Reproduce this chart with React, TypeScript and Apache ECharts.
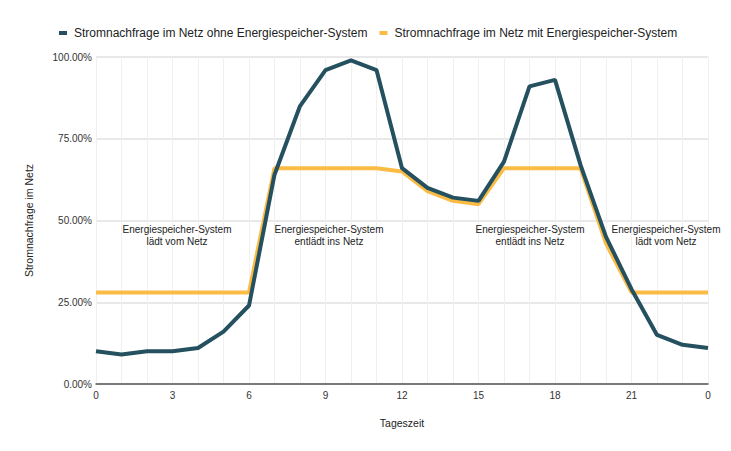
import React, { useEffect, useRef } from "react";
import * as echarts from "echarts";

const hours = ["0","1","2","3","4","5","6","7","8","9","10","11","12","13","14","15","16","17","18","19","20","21","22","23","24"];
const withoutStorage = [10, 9, 10, 10, 11, 16, 24, 64, 85, 96, 99, 96, 66, 60, 57, 56, 68, 91, 93, 67, 45, 29, 15, 12, 11];
const withStorage = [28, 28, 28, 28, 28, 28, 28, 66, 66, 66, 66, 66, 65, 59, 56, 55, 66, 66, 66, 66, 43, 28, 28, 28, 28];
const seriesNames = [
  "Stromnachfrage im Netz ohne Energiespeicher-System",
  "Stromnachfrage im Netz mit Energiespeicher-System",
];
const annotations = [
  { x: 177, text: "Energiespeicher-System\nlädt vom Netz" },
  { x: 329, text: "Energiespeicher-System\nentlädt ins Netz" },
  { x: 530, text: "Energiespeicher-System\nentlädt ins Netz" },
  { x: 666, text: "Energiespeicher-System\nlädt vom Netz" },
];

const FONT = "'Liberation Sans', Arial, sans-serif";

export default function App() {
  const ref = useRef<HTMLDivElement>(null);
  useEffect(() => {
    if (!ref.current) return;
    const chart = echarts.init(ref.current, undefined, { renderer: "svg" });
    chart.setOption({
      animation: false,
      backgroundColor: "#ffffff",
      textStyle: { fontFamily: FONT },
      legend: {
        left: 54,
        top: 22,
        itemWidth: 8,
        itemHeight: 4,
        itemGap: 12,
        icon: "rect",
        textStyle: { fontSize: 12, color: "#222", fontFamily: FONT, padding: [0, 0, 0, 2] },
        data: seriesNames,
      },
      grid: { left: 96, right: 23, top: 57, bottom: 67, containLabel: false },
      xAxis: {
        type: "category",
        data: hours,
        boundaryGap: false,
        name: "Tageszeit",
        nameLocation: "middle",
        nameGap: 33,
        nameTextStyle: { fontSize: 10.5, color: "#222", fontFamily: FONT },
        axisLine: { lineStyle: { color: "#555", width: 1.5 } },
        axisTick: { show: false },
        axisLabel: {
          interval: 2,
          fontSize: 10,
          color: "#333",
          margin: 6,
          formatter: (v: string) => String(Number(v) % 24),
        },
        splitLine: { show: true, interval: 0, lineStyle: { color: "#f0f0f0", width: 1 } },
      },
      yAxis: {
        type: "value",
        min: 0,
        max: 100,
        interval: 25,
        name: "Stromnachfrage im Netz",
        nameLocation: "middle",
        nameGap: 62,
        nameTextStyle: { fontSize: 10.5, color: "#222", fontFamily: FONT },
        axisLine: { show: false },
        axisTick: { show: false },
        axisLabel: {
          fontSize: 10,
          color: "#333",
          margin: 4,
          formatter: (v: number) => v.toFixed(2) + "%",
        },
        splitLine: { lineStyle: { color: "#e0e0e0", width: 1.5 } },
      },
      series: [
        {
          name: seriesNames[0],
          type: "line",
          data: withoutStorage,
          symbol: "none",
          lineStyle: { color: "#24505f", width: 4 },
          itemStyle: { color: "#24505f" },
          z: 3,
        },
        {
          name: seriesNames[1],
          type: "line",
          data: withStorage,
          symbol: "none",
          lineStyle: { color: "#fbbc45", width: 4 },
          itemStyle: { color: "#fbbc45" },
          z: 2,
        },
      ],
      graphic: annotations.map((a) => ({
        type: "text",
        x: a.x,
        y: 223,
        style: {
          text: a.text,
          fill: "#222",
          fontSize: 10,
          fontFamily: FONT,
          align: "center",
          lineHeight: 12,
        },
        z: 10,
      })),
    });
    return () => chart.dispose();
  }, []);
  return (
    <div
      ref={ref}
      style={{ position: "fixed", left: 0, top: 0, width: 731, height: 451 }}
    />
  );
}
